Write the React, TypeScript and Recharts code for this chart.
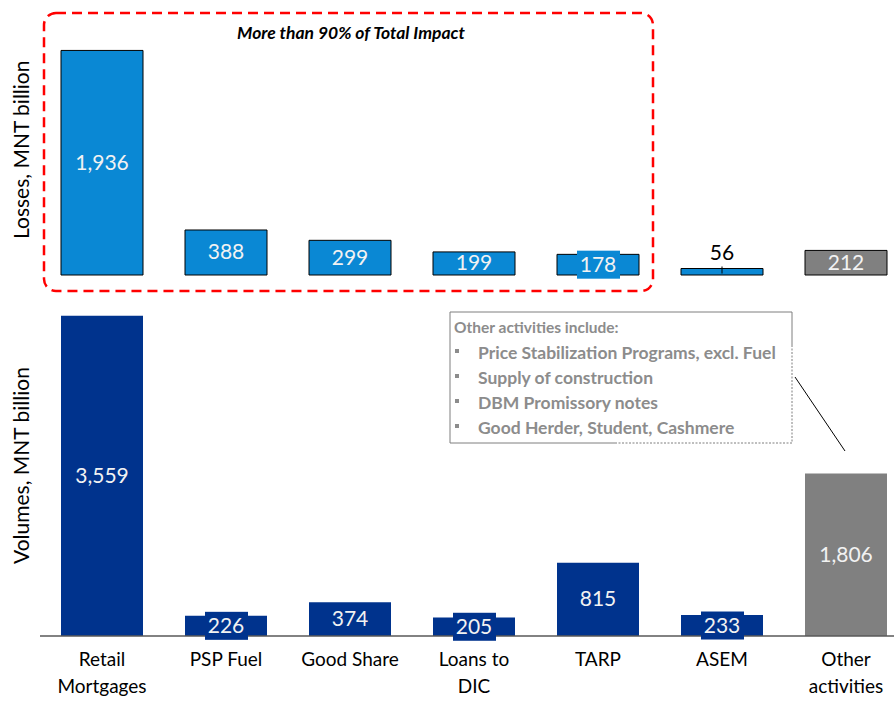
import { BarChart, Bar, XAxis, YAxis, Cell, LabelList } from 'recharts';

const categories = ['Retail\nMortgages', 'PSP Fuel', 'Good Share', 'Loans to\nDIC', 'TARP', 'ASEM', 'Other\nactivities'];
const losses = [1936, 388, 299, 199, 178, 56, 212];
const volumes = [3559, 226, 374, 205, 815, 233, 1806];
const otherItems = [
  'Price Stabilization Programs, excl. Fuel',
  'Supply of construction',
  'DBM Promissory notes',
  'Good Herder, Student, Cashmere',
];

const FONT = 'Lato, "Open Sans", sans-serif';
const LIGHT_BLUE = '#0A88D4';
const NAVY = '#00338D';
const GREY = '#808080';

const lossData = categories.map((c, i) => ({ name: c, value: losses[i] }));
const volumeData = categories.map((c, i) => ({ name: c, value: volumes[i] }));

const fmt = (v: number) => v.toLocaleString('en-US');

function makeLabel(colors: string[], outsideIdx: number) {
  return (props: any) => {
    const { x, y, width, height, value, index } = props;
    const cx = x + width / 2;
    if (index === outsideIdx) {
      return (
        <g>
          <line x1={cx} x2={cx} y1={y - 2} y2={y + 5} stroke="#000" strokeWidth={1} />
          <text x={cx} y={y - 9} textAnchor="middle" fontSize={21} fontFamily={FONT} fill="#000">
            {fmt(value)}
          </text>
        </g>
      );
    }
    const cy = y + height / 2;
    return (
      <g>
        {height < 22 && <rect x={cx - 21} y={cy - 14} width={43} height={28} fill={colors[index]} />}
        <text x={cx} y={cy + 7} textAnchor="middle" fontSize={21} fontFamily={FONT} fill="#F2F2F2">
          {fmt(value)}
        </text>
      </g>
    );
  };
}

const topColors = categories.map((_, i) => (i === 6 ? GREY : LIGHT_BLUE));
const bottomColors = categories.map((_, i) => (i === 6 ? GREY : NAVY));

function CategoryTick(props: any) {
  const { x, y, payload } = props;
  const lines = String(payload.value).split('\n');
  return (
    <text x={x} y={y} textAnchor="middle" fontSize={19} fontFamily={FONT} fill="#000">
      {lines.map((l, i) => (
        <tspan key={i} x={x} dy={i === 0 ? 22 : 27}>
          {l}
        </tspan>
      ))}
    </text>
  );
}

export default function App() {
  return (
    <div style={{ position: 'fixed', left: 0, top: 0, width: 894, height: 702, overflow: 'hidden', background: '#fff' }}>
      <div style={{ position: 'absolute', left: 0, top: 0 }}>
        <BarChart width={910} height={290} data={lossData} margin={{ top: 43, right: 2, bottom: 15, left: 0 }}>
          <XAxis dataKey="name" tick={false} tickLine={false} height={0} axisLine={{ stroke: '#595959', strokeWidth: 1.5 }} />
          <YAxis
            width={40}
            domain={[0, 2000]}
            axisLine={false}
            tickLine={false}
            tick={false}
            label={{ value: 'Losses, MNT billion', angle: -90, position: 'insideLeft', dx: 17, dy: 80, fontSize: 21, fontFamily: FONT, fill: '#000' }}
          />
          <Bar dataKey="value" barSize={82} stroke="#000" strokeWidth={1} isAnimationActive={false}>
            {lossData.map((d, i) => (
              <Cell key={d.name} fill={topColors[i]} />
            ))}
            <LabelList dataKey="value" content={makeLabel(topColors, 5)} />
          </Bar>
        </BarChart>
      </div>
      <div style={{ position: 'absolute', left: 0, top: 300 }}>
        <BarChart width={910} height={402} data={volumeData} margin={{ top: 12, right: 2, bottom: 0, left: 0 }}>
          <XAxis dataKey="name" tick={<CategoryTick />} tickLine={false} height={66} interval={0} axisLine={{ stroke: '#595959', strokeWidth: 1.5 }} />
          <YAxis
            width={40}
            domain={[0, 3600]}
            axisLine={false}
            tickLine={false}
            tick={false}
            label={{ value: 'Volumes, MNT billion', angle: -90, position: 'insideLeft', dx: 17, dy: 90, fontSize: 21, fontFamily: FONT, fill: '#000' }}
          />
          <Bar dataKey="value" barSize={82} isAnimationActive={false}>
            {volumeData.map((d, i) => (
              <Cell key={d.name} fill={bottomColors[i]} />
            ))}
            <LabelList dataKey="value" content={makeLabel(bottomColors, -1)} />
          </Bar>
        </BarChart>
      </div>
      <svg width={894} height={702} style={{ position: 'absolute', left: 0, top: 0, pointerEvents: 'none' }}>
        <rect x={44} y={13} width={609} height={278} rx={12} ry={12} fill="none" stroke="#FF0000" strokeWidth={2.5} strokeDasharray="10 6" />
        <text x={351} y={39} textAnchor="middle" fontSize={17.5} fontStyle="italic" fontWeight="bold" fontFamily={FONT} fill="#000">
          More than 90% of Total Impact
        </text>
        <path d="M792 345 V312 H450 V443 H615" fill="none" stroke="#7F7F7F" strokeWidth={1} />
        <path d="M792 345 V443 H615" fill="none" stroke="#7F7F7F" strokeWidth={1} strokeDasharray="2 1.5" />
        <text fontSize={15.5} fontWeight="bold" fontFamily={FONT} fill="#8C8C8C">
          <tspan x={454} y={333}>Other activities include:</tspan>
        </text>
        <text fontSize={17.5} fontWeight="bold" fontFamily={FONT} fill="#8C8C8C">
          {otherItems.map((t, i) => (
            <tspan key={t} x={478} y={359 + i * 25}>{t}</tspan>
          ))}
        </text>
        {otherItems.map((t, i) => (
          <rect key={t} x={455} y={349 + i * 25} width={4} height={4} fill="#8C8C8C" />
        ))}
        <line x1={795} y1={377} x2={845} y2={451} stroke="#000" strokeWidth={1} />
      </svg>
    </div>
  );
}
